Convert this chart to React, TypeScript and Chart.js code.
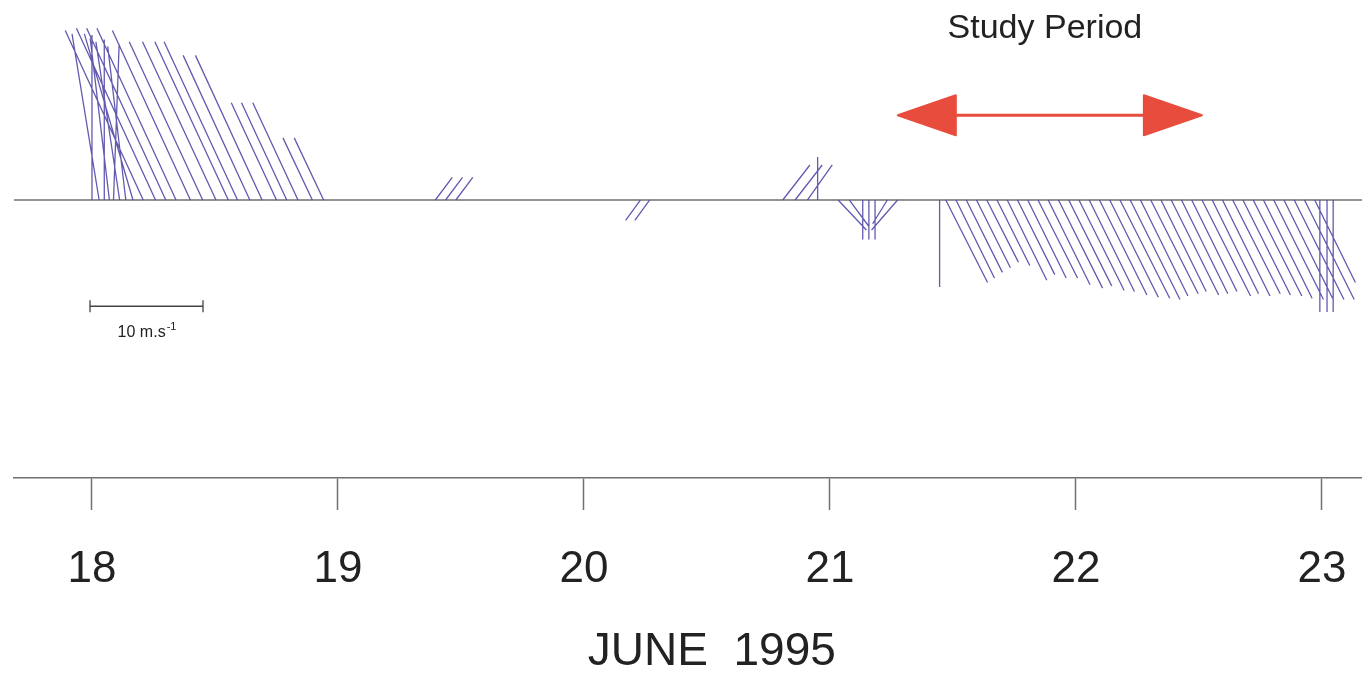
import { useEffect, useRef } from 'react';
import { Chart, registerables } from 'chart.js';

Chart.register(...registerables);

const FONT = '"Liberation Sans", Arial, Helvetica, sans-serif';

// Hourly wind vectors (u = eastward, v = northward, m/s), time in hours after 00:00 on 18 June 1995.
// Episode 1: strong north-westerly on 18 June.
const BURST_HOURS = [0.0, 0.7, 1.2, 1.7, 2.1, 2.7, 3.3, 4.0, 5.0, 6.2, 7.2, 8.2, 9.6, 10.8, 12.1, 13.3, 14.2, 15.4, 16.6, 18.0, 19.0, 20.1, 21.5, 22.6];
const BURST_U = [0.0, -2.4, 0.0, -1.7, 0.5, -2.1, -1.6, -4.3, -6.9, -7.0, -7.0, -7.0, -6.9, -6.5, -6.5, -6.5, -6.5, -5.9, -5.9, -4.0, -4.0, -4.0, -2.6, -2.6];
const BURST_V = [14.6, 14.7, 14.2, 14.3, 13.8, 14.0, 13.6, 14.7, 15.0, 15.2, 15.2, 15.2, 15.0, 14.0, 14.0, 14.0, 14.0, 12.8, 12.8, 8.6, 8.6, 8.6, 5.5, 5.5];

// Episode 2: light and variable winds, 19-21 June.
const CALM_HOURS = [33.5, 34.5, 35.5, 53.5, 54.4, 67.4, 68.6, 69.8, 70.8, 72.8, 73.9, 75.2, 75.8, 76.4, 77.6, 78.6];
const CALM_U = [1.5, 1.5, 1.5, -1.3, -1.3, 2.4, 2.4, 2.2, 0.0, 2.5, 1.7, 0.0, 0.0, 0.0, -1.3, -2.3];
const CALM_V = [2.0, 2.0, 2.0, -1.8, -1.8, 3.1, 3.1, 3.1, 3.8, -2.65, -2.3, -3.5, -3.5, -3.5, -2.1, -2.65];

// Episode 3: steady north-westerly flow, 21-23 June.
const STEADY_HOURS = [82.7, 83.3, 84.3, 85.3, 86.3, 87.3, 88.3, 89.3, 90.3, 91.3, 92.3, 93.3, 94.3, 95.3, 96.3, 97.3, 98.3, 99.3, 100.3, 101.3, 102.3, 103.3, 104.3, 105.3, 106.3, 107.3, 108.3, 109.3, 110.3, 111.3, 112.3, 113.3, 114.3, 115.3, 116.3, 117.3, 118.3, 119.3, 119.8, 120.5, 121.1];
const STEADY_U = [0.0, 3.7, 3.4, 3.2, 3.0, 2.8, 2.9, 3.5, 3.3, 3.4, 3.5, 3.7, 3.9, 3.8, 4.0, 4.0, 4.2, 4.3, 4.4, 4.4, 4.2, 4.2, 4.0, 4.2, 4.1, 4.0, 4.3, 4.1, 4.2, 4.2, 4.2, 4.3, 4.3, 4.4, 4.3, 4.4, 4.4, 3.6, 0.0, 0.0, 0.0];
const STEADY_V = [-7.7, -7.3, -6.9, -6.4, -6.0, -5.5, -5.8, -7.1, -6.6, -6.9, -6.9, -7.5, -7.8, -7.6, -8.0, -8.1, -8.4, -8.6, -8.7, -8.8, -8.5, -8.3, -8.1, -8.4, -8.3, -8.1, -8.5, -8.3, -8.5, -8.3, -8.4, -8.5, -8.7, -8.8, -8.7, -8.8, -8.8, -7.3, -9.9, -9.9, -9.9];

const START_DAY = 18;
const DAY_TICKS = [18, 19, 20, 21, 22, 23];
const X_MIN = 17.683;
const X_MAX = 23.163;
const Y_MIN = -24.6;
const Y_MAX = 17.7;
const AXIS_TITLE = 'JUNE  1995';
const AXIS_TITLE_X = 20.52;

// Study period marker (days) and reference vector
const STUDY_FROM = 21.276;
const STUDY_TO = 22.512;
const STUDY_ARROW_Y = 7.5;
const STUDY_LABEL_X = 21.874;
const STUDY_LABEL_Y = 15.2;
const SCALE_BAR_X = 17.992;
const SCALE_BAR_Y = -9.4;
const SCALE_BAR_SPEED = 10;

const STICK_COLOR = 'rgba(80, 72, 166, 0.9)';
const LINE_GREY = '#707070';
const TEXT_COLOR = '#222222';
const ARROW_COLOR = '#e84c3d';

const EPISODES = [
  { hours: BURST_HOURS, u: BURST_U, v: BURST_V },
  { hours: CALM_HOURS, u: CALM_U, v: CALM_V },
  { hours: STEADY_HOURS, u: STEADY_U, v: STEADY_V },
];

const stickPlot = {
  id: 'stickPlot',
  afterDraw(chart: any) {
    const { ctx, chartArea, scales } = chart;
    const xs = scales.x;
    const ys = scales.y;
    const y0 = ys.getPixelForValue(0);
    const unit = y0 - ys.getPixelForValue(1);

    ctx.save();
    // zero line
    ctx.strokeStyle = LINE_GREY;
    ctx.lineWidth = 1.5;
    ctx.beginPath();
    ctx.moveTo(chartArea.left, y0);
    ctx.lineTo(chartArea.right, y0);
    ctx.stroke();

    // wind sticks
    ctx.strokeStyle = STICK_COLOR;
    ctx.lineWidth = 1.3;
    ctx.beginPath();
    EPISODES.forEach(({ hours, u, v }) => {
      hours.forEach((h, i) => {
        const bx = xs.getPixelForValue(START_DAY + h / 24);
        ctx.moveTo(bx, y0);
        ctx.lineTo(bx + u[i] * unit, ys.getPixelForValue(v[i]));
      });
    });
    ctx.stroke();

    // study period arrow
    const a0 = xs.getPixelForValue(STUDY_FROM);
    const a1 = xs.getPixelForValue(STUDY_TO);
    const ay = ys.getPixelForValue(STUDY_ARROW_Y);
    const headLen = 58;
    const headHalf = 20;
    ctx.fillStyle = ARROW_COLOR;
    ctx.strokeStyle = ARROW_COLOR;
    ctx.lineWidth = 3;
    ctx.beginPath();
    ctx.moveTo(a0 + headLen - 2, ay);
    ctx.lineTo(a1 - headLen + 2, ay);
    ctx.stroke();
    ctx.lineJoin = 'round';
    ctx.lineWidth = 2;
    ctx.beginPath();
    ctx.moveTo(a0, ay);
    ctx.lineTo(a0 + headLen, ay - headHalf);
    ctx.lineTo(a0 + headLen, ay + headHalf);
    ctx.closePath();
    ctx.fill();
    ctx.stroke();
    ctx.beginPath();
    ctx.moveTo(a1, ay);
    ctx.lineTo(a1 - headLen, ay - headHalf);
    ctx.lineTo(a1 - headLen, ay + headHalf);
    ctx.closePath();
    ctx.fill();
    ctx.stroke();

    ctx.fillStyle = TEXT_COLOR;
    ctx.font = `34px ${FONT}`;
    ctx.textAlign = 'center';
    ctx.textBaseline = 'middle';
    ctx.fillText('Study Period', xs.getPixelForValue(STUDY_LABEL_X), ys.getPixelForValue(STUDY_LABEL_Y));

    // reference vector
    const sx0 = xs.getPixelForValue(SCALE_BAR_X);
    const sx1 = sx0 + SCALE_BAR_SPEED * unit;
    const sy = ys.getPixelForValue(SCALE_BAR_Y);
    ctx.strokeStyle = '#444444';
    ctx.lineWidth = 1.3;
    ctx.beginPath();
    ctx.moveTo(sx0, sy);
    ctx.lineTo(sx1, sy);
    ctx.moveTo(sx0, sy - 6);
    ctx.lineTo(sx0, sy + 6);
    ctx.moveTo(sx1, sy - 6);
    ctx.lineTo(sx1, sy + 6);
    ctx.stroke();

    const main = `${SCALE_BAR_SPEED} m.s`;
    const sup = '-1';
    ctx.font = `16px ${FONT}`;
    const wMain = ctx.measureText(main).width;
    ctx.font = `11px ${FONT}`;
    const wSup = ctx.measureText(sup).width;
    const lx = (sx0 + sx1) / 2 - (wMain + wSup) / 2;
    ctx.textAlign = 'left';
    ctx.textBaseline = 'alphabetic';
    ctx.fillStyle = TEXT_COLOR;
    ctx.font = `16px ${FONT}`;
    ctx.fillText(main, lx, sy + 31);
    ctx.font = `11px ${FONT}`;
    ctx.fillText(sup, lx + wMain + 1, sy + 24);

    // axis title
    ctx.font = `46px ${FONT}`;
    ctx.textAlign = 'center';
    ctx.textBaseline = 'middle';
    ctx.fillText(AXIS_TITLE, xs.getPixelForValue(AXIS_TITLE_X), 652);
    ctx.restore();
  },
};

export default function App() {
  const canvasRef = useRef<HTMLCanvasElement | null>(null);

  useEffect(() => {
    const canvas = canvasRef.current;
    if (!canvas) return;
    const chart = new Chart(canvas, {
      type: 'scatter',
      data: { datasets: [] },
      options: {
        animation: false,
        responsive: false,
        layout: { padding: { left: 14, right: 0, top: 0, bottom: 0 } },
        plugins: {
          legend: { display: false },
          tooltip: { enabled: false },
          title: { display: false },
        },
        scales: {
          x: {
            type: 'linear',
            min: X_MIN,
            max: X_MAX,
            afterBuildTicks: (scale: any) => {
              scale.ticks = DAY_TICKS.map((value) => ({ value }));
            },
            afterFit: (scale: any) => {
              scale.height = 195;
              scale.paddingLeft = 0;
              scale.paddingRight = 0;
            },
            grid: {
              drawOnChartArea: false,
              drawTicks: true,
              tickLength: 32,
              tickWidth: 1.5,
              tickColor: LINE_GREY,
              color: LINE_GREY,
            },
            border: { display: true, color: LINE_GREY, width: 1.5 },
            ticks: {
              color: TEXT_COLOR,
              padding: 33,
              maxRotation: 0,
              autoSkip: false,
              font: { family: FONT, size: 44 },
              callback: (value: any) => String(value),
            },
          },
          y: {
            type: 'linear',
            display: false,
            min: Y_MIN,
            max: Y_MAX,
          },
        },
      },
      plugins: [stickPlot],
    });
    return () => chart.destroy();
  }, []);

  return (
    <div style={{ position: 'fixed', left: 0, top: 0, width: 1362, height: 673, background: '#ffffff' }}>
      <canvas ref={canvasRef} width={1362} height={673} />
    </div>
  );
}
